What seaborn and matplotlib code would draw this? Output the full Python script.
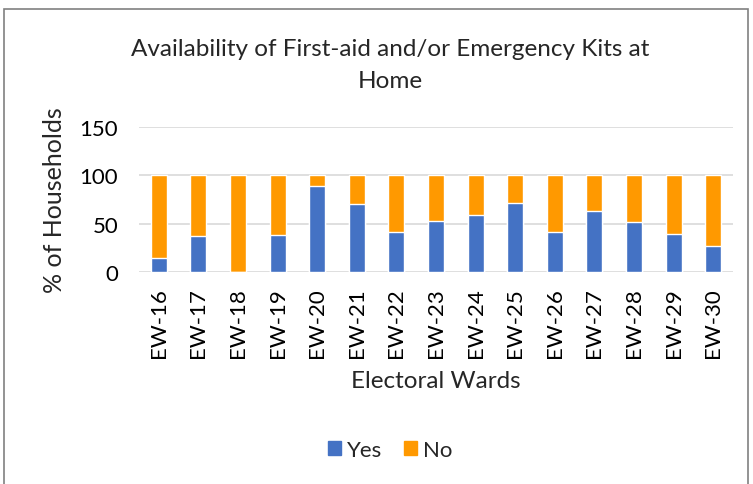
import matplotlib
matplotlib.use("Agg")
import matplotlib.pyplot as plt
import seaborn as sns
import pandas as pd
from matplotlib.patches import Rectangle, Patch

# data (% of households)
wards = ['EW-16', 'EW-17', 'EW-18', 'EW-19', 'EW-20', 'EW-21', 'EW-22', 'EW-23',
         'EW-24', 'EW-25', 'EW-26', 'EW-27', 'EW-28', 'EW-29', 'EW-30']
yes = [15, 37, 0, 38, 89, 70, 41, 53, 59, 71, 41, 63, 52, 39, 27]
no = [85, 63, 100, 62, 11, 30, 59, 47, 41, 29, 59, 37, 48, 61, 73]

blue = '#4472c4'
orange = '#ff9900'

sns.set_style('white')
plt.rcParams['font.family'] = ['Lato', 'DejaVu Sans']

df = pd.DataFrame({'Ward': wards, 'Yes': yes, 'No': no})
df['Total'] = df['Yes'] + df['No']

fig = plt.figure(figsize=(7.53, 4.85), dpi=100)
ax = fig.add_axes([139 / 753, 1 - 273 / 485, 594 / 753, 145 / 485])

# stacked bars: total first (orange), then yes over it (blue)
sns.barplot(data=df, x='Ward', y='Total', color=orange, width=0.4, ax=ax,
            saturation=1, zorder=2)
sns.barplot(data=df, x='Ward', y='Yes', color=blue, width=0.4, ax=ax,
            saturation=1, zorder=3)

ax.set_ylim(0, 150)
ax.set_yticks([0, 50, 100, 150])
ax.yaxis.grid(True, color='#d9d9d9', linewidth=1.2, zorder=0)
ax.set_axisbelow(True)
for s in ax.spines.values():
    s.set_visible(False)
ax.tick_params(axis='both', length=0, labelsize=16, colors='black')
ax.tick_params(axis='x', rotation=90, pad=11)
ax.tick_params(axis='y', pad=15)
ax.set_xlim(-0.5, len(wards) - 0.5)

ax.set_xlabel('Electoral Wards', fontsize=17.5, labelpad=9)
ax.set_ylabel('% of Households', fontsize=18, labelpad=10)

fig.text(390 / 753, 1 - 50 / 485, 'Availability of First-aid and/or Emergency Kits at',
         ha='center', va='center', fontsize=17.5)
fig.text(390 / 753, 1 - 81 / 485, 'Home', ha='center', va='center', fontsize=17.5)

handles = [Patch(color=blue, label='Yes'), Patch(color=orange, label='No')]
fig.legend(handles=handles, loc='center', bbox_to_anchor=(390 / 753, 1 - 451 / 485),
           ncol=2, frameon=False, fontsize=16, handlelength=0.6, handleheight=0.6,
           handletextpad=0.25, columnspacing=1.0)

# outer chart frame
fig.patches.append(Rectangle((4 / 753, -0.01), 744 / 753, 1 - 10 / 485 + 0.01,
                             transform=fig.transFigure, fill=False,
                             edgecolor='#808080', linewidth=1.2))

fig.savefig('out.png', dpi=100)
